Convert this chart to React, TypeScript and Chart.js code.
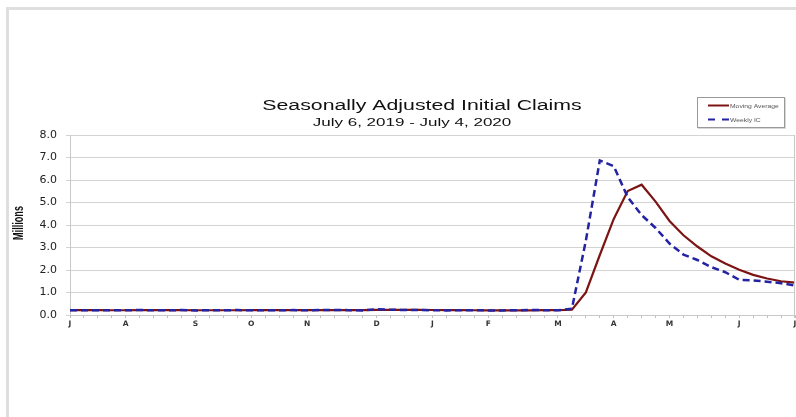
import { useEffect, useRef } from 'react';
import { Chart, registerables } from 'chart.js';

Chart.register(...registerables);

// Week-ending dates (Saturdays), July 6, 2019 - July 4, 2020
const weekEnding = [
  '2019-07-06', '2019-07-13', '2019-07-20', '2019-07-27',
  '2019-08-03', '2019-08-10', '2019-08-17', '2019-08-24', '2019-08-31',
  '2019-09-07', '2019-09-14', '2019-09-21', '2019-09-28',
  '2019-10-05', '2019-10-12', '2019-10-19', '2019-10-26',
  '2019-11-02', '2019-11-09', '2019-11-16', '2019-11-23', '2019-11-30',
  '2019-12-07', '2019-12-14', '2019-12-21', '2019-12-28',
  '2020-01-04', '2020-01-11', '2020-01-18', '2020-01-25',
  '2020-02-01', '2020-02-08', '2020-02-15', '2020-02-22', '2020-02-29',
  '2020-03-07', '2020-03-14', '2020-03-21', '2020-03-28',
  '2020-04-04', '2020-04-11', '2020-04-18', '2020-04-25',
  '2020-05-02', '2020-05-09', '2020-05-16', '2020-05-23', '2020-05-30',
  '2020-06-06', '2020-06-13', '2020-06-20', '2020-06-27',
  '2020-07-04',
];

// Month tick labels and the week they sit on
const monthTickWeek = ['2019-07-06', '2019-08-03', '2019-09-07', '2019-10-05', '2019-11-02', '2019-12-07', '2020-01-04', '2020-02-01', '2020-03-07', '2020-04-04', '2020-05-02', '2020-06-06', '2020-07-04'];
const monthTickLabel = ['J', 'A', 'S', 'O', 'N', 'D', 'J', 'F', 'M', 'A', 'M', 'J', 'J'];

// Y-axis range (millions)
const yMin = 0;
const yMax = 8;
const yStep = 1;

// Series (millions)
const movingAverage = [
  0.218, 0.218, 0.213, 0.212,
  0.212, 0.213, 0.213, 0.213, 0.215,
  0.211, 0.211, 0.211, 0.211,
  0.213, 0.214, 0.214, 0.214,
  0.214, 0.217, 0.220, 0.219, 0.217,
  0.224, 0.226, 0.228, 0.233,
  0.223, 0.216, 0.213, 0.211,
  0.208, 0.209, 0.208, 0.209, 0.213,
  0.214, 0.232, 1.004, 2.667,
  4.268, 5.507, 5.790, 5.040,
  4.180, 3.543, 3.044, 2.609, 2.290,
  2.010, 1.783, 1.622, 1.500,
  1.437,
];

const weeklyIC = [
  0.209, 0.216, 0.206, 0.215,
  0.209, 0.220, 0.209, 0.215, 0.217,
  0.204, 0.208, 0.213, 0.219,
  0.210, 0.214, 0.212, 0.218,
  0.211, 0.225, 0.227, 0.213, 0.203,
  0.252, 0.234, 0.222, 0.222,
  0.214, 0.204, 0.211, 0.216,
  0.202, 0.205, 0.210, 0.219, 0.216,
  0.211, 0.282, 3.307, 6.867,
  6.615, 5.237, 4.442, 3.867,
  3.176, 2.687, 2.446, 2.126, 1.901,
  1.566, 1.540, 1.482, 1.413,
  1.314,
];

const seriesNames = ['Moving Average', 'Weekly IC'];
const chartTitle = 'Seasonally Adjusted Initial Claims';
const chartSubtitle = 'July 6, 2019 - July 4, 2020';
const yAxisTitle = 'Millions';

const RED = '#7c1414';
const BLUE = '#2323a3';

function stretchText(
  ctx: CanvasRenderingContext2D,
  text: string,
  x: number,
  y: number,
  font: string,
  color: string,
  sx: number,
  align: CanvasTextAlign,
) {
  ctx.save();
  ctx.translate(x, y);
  ctx.scale(sx, 1);
  ctx.font = font;
  ctx.fillStyle = color;
  ctx.textAlign = align;
  ctx.textBaseline = 'alphabetic';
  ctx.fillText(text, 0, 0);
  ctx.restore();
}

const decorPlugin = {
  id: 'decor',
  beforeDraw(chart: any) {
    const ctx = chart.ctx as CanvasRenderingContext2D;
    ctx.save();
    ctx.fillStyle = '#ffffff';
    ctx.fillRect(0, 0, chart.width, chart.height);
    ctx.fillStyle = '#dfdfdf';
    ctx.fillRect(6, 7, chart.width - 6, 3);
    ctx.fillRect(6, 7, 3, chart.height - 7);
    ctx.restore();
  },
  afterDraw(chart: any) {
    const ctx = chart.ctx as CanvasRenderingContext2D;
    const a = chart.chartArea;
    ctx.save();
    // right frame of the plot
    ctx.strokeStyle = '#c8c8c8';
    ctx.lineWidth = 1;
    ctx.beginPath();
    ctx.moveTo(a.right - 0.5, a.top);
    ctx.lineTo(a.right - 0.5, a.bottom + 3);
    ctx.stroke();

    const fam = '"Liberation Sans", Arial, sans-serif';

    // y-axis title, rotated and condensed
    ctx.save();
    ctx.translate(19, (a.top + a.bottom) / 2 - 2);
    ctx.rotate(-Math.PI / 2);
    ctx.scale(0.76, 1.25);
    ctx.font = `bold 12px ${fam}`;
    ctx.fillStyle = '#111111';
    ctx.textAlign = 'center';
    ctx.textBaseline = 'middle';
    ctx.fillText(yAxisTitle, 0, 0);
    ctx.restore();

    // titles
    stretchText(ctx, chartTitle, 422, 110, `14px ${fam}`, '#111111', 1.52, 'center');
    stretchText(ctx, chartSubtitle, 412, 125.5, `10.5px ${fam}`, '#111111', 1.62, 'center');

    // legend box
    ctx.strokeStyle = '#9a9a9a';
    ctx.lineWidth = 1;
    ctx.strokeRect(697.5, 97.5, 87, 30);
    ctx.strokeStyle = '#d8d8d8';
    ctx.beginPath();
    ctx.moveTo(698, 128.5);
    ctx.lineTo(785.5, 128.5);
    ctx.lineTo(785.5, 98);
    ctx.stroke();

    ctx.lineWidth = 2;
    ctx.strokeStyle = RED;
    ctx.beginPath();
    ctx.moveTo(708, 105.5);
    ctx.lineTo(729, 105.5);
    ctx.stroke();

    ctx.strokeStyle = BLUE;
    ctx.setLineDash([7, 7]);
    ctx.beginPath();
    ctx.moveTo(708, 119.5);
    ctx.lineTo(729, 119.5);
    ctx.stroke();
    ctx.setLineDash([]);

    stretchText(ctx, seriesNames[0], 730, 107.5, `4.5px ${fam}`, '#555555', 1.5, 'left');
    stretchText(ctx, seriesNames[1], 730, 121.5, `4.5px ${fam}`, '#555555', 1.5, 'left');
    ctx.restore();
  },
};

export default function App() {
  const canvasRef = useRef<HTMLCanvasElement | null>(null);

  useEffect(() => {
    const canvas = canvasRef.current;
    if (!canvas) return;

    const tickMap = new Map<string, string>();
    monthTickWeek.forEach((w, i) => tickMap.set(w, monthTickLabel[i]));

    const chart = new Chart(canvas, {
      type: 'line',
      data: {
        labels: weekEnding,
        datasets: [
          {
            label: seriesNames[0],
            data: movingAverage,
            borderColor: RED,
            backgroundColor: RED,
            borderWidth: 2.2,
            pointRadius: 0,
            tension: 0,
            order: 1,
          },
          {
            label: seriesNames[1],
            data: weeklyIC,
            borderColor: BLUE,
            backgroundColor: BLUE,
            borderWidth: 2.5,
            borderDash: [7, 4],
            pointRadius: 0,
            tension: 0,
            order: 0,
          },
        ],
      },
      options: {
        animation: false,
        responsive: false,
        devicePixelRatio: 1,
        layout: { padding: { top: 135, left: 0, right: 1, bottom: 82 } },
        plugins: {
          legend: { display: false },
          title: { display: false },
          tooltip: { enabled: false },
        },
        scales: {
          x: {
            type: 'category',
            offset: false,
            afterFit: (s: any) => {
              s.height = 20;
              s.paddingLeft = 0;
              s.paddingRight = 0;
            },
            grid: {
              display: true,
              drawOnChartArea: false,
              drawTicks: true,
              tickLength: 3,
              color: '#bdbdbd',
            },
            border: { display: true, color: '#c8c8c8' },
            ticks: {
              autoSkip: false,
              maxRotation: 0,
              minRotation: 0,
              padding: 1.5,
              color: '#333333',
              font: { family: '"DejaVu Sans", sans-serif', size: 7.5, weight: 'bold' },
              callback: function (this: any, _v: any, idx: number) {
                return tickMap.get(weekEnding[idx]) ?? '';
              },
            },
          },
          y: {
            min: yMin,
            max: yMax,
            afterFit: (s: any) => {
              s.width = 70;
            },
            grid: {
              color: '#d3d3d3',
              lineWidth: 1,
              tickLength: 4,
            },
            border: { display: true, color: '#c8c8c8' },
            ticks: {
              stepSize: yStep,
              padding: 9,
              color: '#222222',
              font: { family: '"DejaVu Sans", sans-serif', size: 11 },
              callback: (v: any) => Number(v).toFixed(1),
            },
            title: { display: false },
          },
        },
      },
      plugins: [decorPlugin],
    });

    return () => chart.destroy();
  }, []);

  return (
    <div style={{ position: 'fixed', left: 0, top: 0, width: 796, height: 417, background: '#ffffff' }}>
      <canvas ref={canvasRef} width={796} height={417} style={{ display: 'block', width: 796, height: 417 }} />
    </div>
  );
}
